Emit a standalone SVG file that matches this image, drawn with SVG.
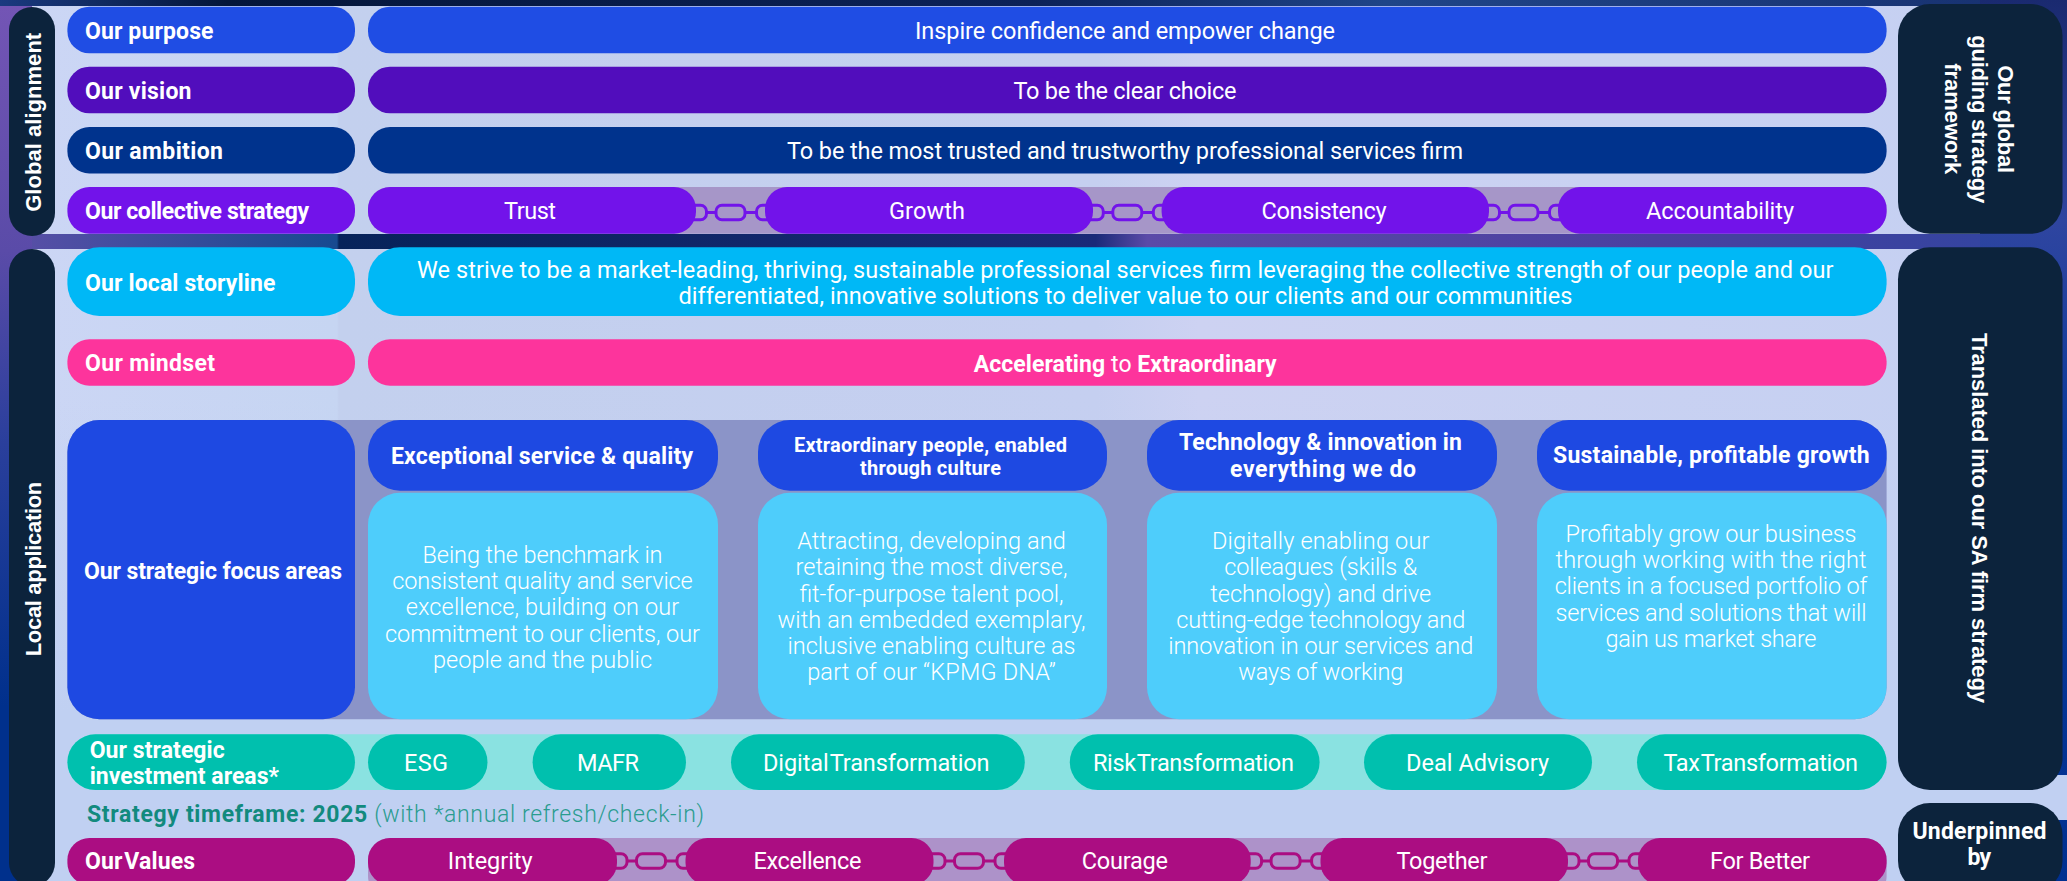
<svg xmlns="http://www.w3.org/2000/svg" width="2067" height="881" viewBox="0 0 2067 881">
<style>
text{fill:#fff;font-family:Roboto,"Liberation Sans",sans-serif}
.l{font-size:23px;font-weight:700}
.t{font-size:23.5px;font-weight:400}
.b{font-size:23.5px;font-weight:300;text-anchor:middle}
.c{text-anchor:middle}
.s{font-size:20px}
.w{word-spacing:-4px}
.r{font-family:"Liberation Sans",Arial,sans-serif;font-size:22px;font-weight:700;text-anchor:middle}
.dark{fill:#0c233c}
.purpose{fill:#1f4de4}.vision{fill:#510dbc}.ambition{fill:#00338d}.collective{fill:#7213ea}
.story{fill:#00b8f6}.mindset{fill:#fd349c}.focus{fill:#1e49e2}.body{fill:#4ecdfb}.invest{fill:#00c0ae}.values{fill:#ab0d82}
</style>
<defs>
<linearGradient id="panel" gradientUnits="userSpaceOnUse" x1="0" y1="0" x2="2067" y2="0">
<stop offset="0" stop-color="#ccd6f5"/><stop offset=".163" stop-color="#c6d5f2"/><stop offset=".164" stop-color="#c3d0ee"/><stop offset=".53" stop-color="#c5cff0"/><stop offset=".58" stop-color="#cdd2f2"/><stop offset="1" stop-color="#c4d0f2"/>
</linearGradient>
<linearGradient id="fade" x1="0" y1="0" x2="0" y2="1">
<stop offset="0" stop-color="#c0d0f2" stop-opacity="0"/><stop offset=".65" stop-color="#c0d0f2"/>
</linearGradient>
<linearGradient id="strip" gradientUnits="userSpaceOnUse" x1="0" y1="0" x2="2067" y2="0">
<stop offset="0" stop-color="#5c4fa8"/><stop offset=".163" stop-color="#174a90"/><stop offset=".164" stop-color="#07235a"/><stop offset=".53" stop-color="#1a2a78"/><stop offset=".555" stop-color="#5b4aa8"/><stop offset=".8" stop-color="#4a40a0"/><stop offset="1" stop-color="#2f45a0"/>
</linearGradient>
<linearGradient id="top" gradientUnits="userSpaceOnUse" x1="0" y1="0" x2="2067" y2="0">
<stop offset="0" stop-color="#1a3a80"/><stop offset=".11" stop-color="#04163a"/><stop offset=".5" stop-color="#0c2258"/><stop offset=".67" stop-color="#1f4588"/><stop offset="1" stop-color="#17306f"/>
</linearGradient>
<linearGradient id="left" x1="0" y1="0" x2="0" y2="1">
<stop offset="0" stop-color="#7355b5"/><stop offset=".28" stop-color="#5a4ba8"/><stop offset=".5" stop-color="#2a3f9c"/><stop offset=".8" stop-color="#00308c"/><stop offset="1" stop-color="#00308c"/>
</linearGradient>
<linearGradient id="right" x1="0" y1="0" x2="0" y2="1">
<stop offset="0" stop-color="#1a2a70"/><stop offset=".25" stop-color="#2f45a0"/><stop offset=".5" stop-color="#0a3a9a"/><stop offset="1" stop-color="#003090"/>
</linearGradient>
<g id="chain" fill="none" stroke-width="3">
<rect x="-14.5" y="-7.3" width="29" height="14.6" rx="6"/>
<path d="M-24 0H-14.5M14.5 0H26"/>
<rect x="-52" y="-7.3" width="28" height="14.6" rx="6"/>
<rect x="26" y="-7.3" width="28" height="14.6" rx="6"/>
</g>
</defs>
<g id="background">
<rect width="2067" height="881" fill="#0a2a70"/>
<rect x="0" y="0" width="2067" height="6" fill="url(#top)"/>
<rect x="0" y="234" width="2067" height="15" fill="url(#strip)"/>
<rect x="0" y="6" width="32" height="875" fill="url(#left)"/>
<rect x="1980" y="0" width="87" height="881" fill="url(#right)"/>
<rect x="32" y="6" width="1948" height="228" fill="url(#panel)"/>
<rect x="32" y="249" width="1948" height="632" fill="url(#panel)"/>
<rect x="32" y="400" width="1948" height="481" fill="url(#fade)"/>
<rect x="1980" y="775" width="87" height="45" fill="#c1d0f2"/>
<rect x="368" y="187" width="1518.6" height="46.7" rx="22" fill="#a696c8"/>
<rect x="67.4" y="420" width="1819.2" height="299.3" rx="32" fill="#8b94c8"/>
<rect x="67.4" y="734.3" width="1819.2" height="55.7" rx="28" fill="#8ae2e1"/>
<rect x="368" y="838" width="1518.6" height="60" rx="22" fill="#ad92c9"/>
</g>
<g id="connectors">
<use href="#chain" x="730.5" y="212.5" stroke="#7213ea"/>
<use href="#chain" x="1127.3" y="212.5" stroke="#7213ea"/>
<use href="#chain" x="1523.5" y="212.5" stroke="#7213ea"/>
<use href="#chain" x="651" y="861" stroke="#ab0d82"/>
<use href="#chain" x="969" y="861" stroke="#ab0d82"/>
<use href="#chain" x="1285.6" y="861" stroke="#ab0d82"/>
<use href="#chain" x="1603" y="861" stroke="#ab0d82"/>
</g>
<g id="global-alignment"><rect class="dark" x="9" y="7" width="46" height="229" rx="23"/><text class="r" transform="translate(41 122.3) rotate(-90)" textLength="179">Global alignment</text></g>
<g id="local-application"><rect class="dark" x="9" y="249" width="46" height="637" rx="23"/><text class="r" transform="translate(41 569) rotate(-90)" textLength="174.5">Local application</text></g>
<g id="global-framework"><rect class="dark" x="1898" y="4" width="164.5" height="229.7" rx="32"/>
<text class="r" transform="translate(1998 119.2) rotate(90)" textLength="108">Our global</text>
<text class="r" transform="translate(1971.5 119.2) rotate(90)" textLength="168">guiding strategy</text>
<text class="r" transform="translate(1945 118.8) rotate(90)" textLength="111">framework</text></g>
<g id="sa-strategy"><rect class="dark" x="1898" y="247.3" width="164.5" height="542.7" rx="32"/><text class="r" transform="translate(1971.7 518) rotate(90)" textLength="370">Translated into our SA firm strategy</text></g>
<g id="underpinned"><rect class="dark" x="1898" y="803" width="164.5" height="90" rx="32"/><text class="l c" x="1979.5" y="838.5" textLength="134">Underpinned</text><text class="l c" x="1979.3" y="864.5" textLength="23.5">by</text></g>

<g id="purpose"><rect class="purpose" x="67.4" y="6.7" width="287.6" height="46.6" rx="22"/><text class="l" x="85" y="38.5" textLength="128.5">Our purpose</text>
<rect class="purpose" x="368" y="6.7" width="1518.6" height="46.6" rx="22"/><text class="t c" x="1125" y="38.5" textLength="420">Inspire confidence and empower change</text></g>
<g id="vision"><rect class="vision" x="67.4" y="66.7" width="287.6" height="46.6" rx="22"/><text class="l" x="85" y="98.5" textLength="106.5">Our vision</text>
<rect class="vision" x="368" y="66.7" width="1518.6" height="46.6" rx="22"/><text class="t c" x="1125" y="98.5" textLength="223">To be the clear choice</text></g>
<g id="ambition"><rect class="ambition" x="67.4" y="127" width="287.6" height="46.4" rx="22"/><text class="l" x="85" y="158.5" textLength="138">Our ambition</text>
<rect class="ambition" x="368" y="127" width="1518.6" height="46.4" rx="22"/><text class="t c" x="1125" y="158.5" textLength="676">To be the most trusted and trustworthy professional services firm</text></g>
<g id="collective"><rect class="collective" x="67.4" y="187" width="287.6" height="46.7" rx="22"/><text class="l" x="85" y="219" textLength="224">Our collective strategy</text>
<rect class="collective" x="368" y="187" width="328" height="46.7" rx="22"/><text class="t c" x="530" y="219" textLength="52">Trust</text>
<rect class="collective" x="765" y="187" width="328" height="46.7" rx="22"/><text class="t c" x="927" y="219" textLength="76">Growth</text>
<rect class="collective" x="1161.6" y="187" width="327.4" height="46.7" rx="22"/><text class="t c" x="1324" y="219" textLength="125">Consistency</text>
<rect class="collective" x="1558" y="187" width="328.6" height="46.7" rx="22"/><text class="t c" x="1720" y="219" textLength="148">Accountability</text></g>

<g id="storyline"><rect class="story" x="67.4" y="247.3" width="287.6" height="68.7" rx="32"/><text class="l" x="85" y="290.5" textLength="190.5">Our local storyline</text>
<rect class="story" x="368" y="247.3" width="1518.6" height="68.7" rx="32"/>
<text class="t c" x="1125.3" y="278.3" textLength="1416.5">We strive to be a market-leading, thriving, sustainable professional services firm leveraging the collective strength of our people and our</text>
<text class="t c" x="1125.5" y="304.3" textLength="894">differentiated, innovative solutions to deliver value to our clients and our communities</text></g>
<g id="mindset"><rect class="mindset" x="67.4" y="339.3" width="287.6" height="46.4" rx="22"/><text class="l" x="85" y="371.2" textLength="130">Our mindset</text>
<rect class="mindset" x="368" y="339.3" width="1518.6" height="46.4" rx="22"/><text class="l" x="973.7" y="371.5" textLength="303">Accelerating <tspan style="font-weight:400">to</tspan> Extraordinary</text></g>

<g id="focus-areas"><rect class="focus" x="67.4" y="420" width="287.6" height="299.3" rx="32"/><text class="l" x="84" y="578.5" textLength="258">Our strategic focus areas</text></g>
<g id="focus-1"><rect class="focus" x="368" y="420" width="350" height="70.7" rx="32"/><text class="l c" x="542" y="463.5" textLength="302">Exceptional service &amp; quality</text>
<rect class="body" x="368" y="492.7" width="350" height="226.6" rx="32"/>
<text class="b" x="542.5" y="562.5" textLength="240">Being the benchmark in</text>
<text class="b" x="542.5" y="588.5" textLength="300.5">consistent quality and service</text>
<text class="b" x="542.5" y="614.5" textLength="273.5">excellence, building on our</text>
<text class="b" x="542.5" y="641.5" textLength="315">commitment to our clients, our</text>
<text class="b" x="542.5" y="667.5" textLength="219">people and the public</text></g>
<g id="focus-2"><rect class="focus" x="758" y="420" width="349" height="70.7" rx="32"/><text class="l c s" x="930.5" y="451.5" textLength="273">Extraordinary people, enabled</text><text class="l c s" x="930.5" y="474.8" textLength="141">through culture</text>
<rect class="body" x="758" y="492.7" width="349" height="226.6" rx="32"/>
<text class="b" x="931.5" y="549" textLength="268.5">Attracting, developing and</text>
<text class="b" x="931.5" y="575.4" textLength="272">retaining the most diverse,</text>
<text class="b" x="931.5" y="601.5" textLength="264">fit-for-purpose talent pool,</text>
<text class="b" x="931.5" y="627.5" textLength="308">with an embedded exemplary,</text>
<text class="b" x="931.5" y="654" textLength="288">inclusive enabling culture as</text>
<text class="b" x="931.5" y="680" textLength="248.7">part of our “KPMG DNA”</text></g>
<g id="focus-3"><rect class="focus" x="1147" y="420" width="350" height="70.7" rx="32"/><text class="l c" x="1320.5" y="450" textLength="283">Technology &amp; innovation in</text><text class="l c" x="1323" y="476.8" textLength="186">everything we do</text>
<rect class="body" x="1147" y="492.7" width="350" height="226.6" rx="32"/>
<text class="b" x="1320.7" y="549" textLength="217.6">Digitally enabling our</text>
<text class="b" x="1320.7" y="575.4" textLength="193">colleagues (skills &amp;</text>
<text class="b" x="1320.7" y="601.5" textLength="221">technology) and drive</text>
<text class="b" x="1320.7" y="627.5" textLength="289">cutting-edge technology and</text>
<text class="b" x="1320.7" y="654" textLength="305">innovation in our services and</text>
<text class="b" x="1320.7" y="680" textLength="165">ways of working</text></g>
<g id="focus-4"><rect class="focus" x="1537" y="420" width="349.6" height="70.7" rx="32"/><text class="l c" x="1711.3" y="463" textLength="316.5">Sustainable, profitable growth</text>
<rect class="body" x="1537" y="492.7" width="349.6" height="226.6" rx="32"/>
<text class="b" x="1711" y="541.8" textLength="291">Profitably grow our business</text>
<text class="b" x="1711" y="567.8" textLength="311">through working with the right</text>
<text class="b" x="1711" y="593.8" textLength="312.7">clients in a focused portfolio of</text>
<text class="b" x="1711" y="620.5" textLength="311">services and solutions that will</text>
<text class="b" x="1711" y="646.8" textLength="211">gain us market share</text></g>

<g id="investment"><rect class="invest" x="67.4" y="734.3" width="287.6" height="55.7" rx="28"/><text class="l" x="89.7" y="757.5" textLength="135">Our strategic</text><text class="l" x="89.7" y="783.8" textLength="189.3">investment areas*</text>
<rect class="invest" x="368" y="734.3" width="119.5" height="55.7" rx="28"/><text class="t c" x="426" y="770.5" textLength="43.8">ESG</text>
<rect class="invest" x="532.6" y="734.3" width="153.4" height="55.7" rx="28"/><text class="t c" x="608" y="770.5" textLength="62">MAFR</text>
<rect class="invest" x="731" y="734.3" width="293.8" height="55.7" rx="28"/><text class="t c w" x="876.3" y="770.5" textLength="226.5">Digital Transformation</text>
<rect class="invest" x="1069.8" y="734.3" width="249.8" height="55.7" rx="28"/><text class="t c w" x="1193.4" y="770.5" textLength="201">Risk Transformation</text>
<rect class="invest" x="1364" y="734.3" width="228" height="55.7" rx="28"/><text class="t c" x="1477.6" y="770.5" textLength="143">Deal Advisory</text>
<rect class="invest" x="1637" y="734.3" width="249.6" height="55.7" rx="28"/><text class="t c w" x="1760.7" y="770.5" textLength="194.6">Tax Transformation</text></g>
<text id="timeframe" x="87" y="821.5" style="fill:#2a9c8f;font-size:23px;font-weight:300" textLength="617"><tspan style="fill:#128a7e;font-weight:700">Strategy timeframe: 2025</tspan> (with *annual refresh/check-in)</text>
<g id="values"><rect class="values" x="67.4" y="838" width="287.6" height="47" rx="22"/><text class="l w" x="85" y="869" textLength="110">Our Values</text>
<rect class="values" x="368" y="838" width="249" height="47" rx="22"/><text class="t c" x="490.2" y="869" textLength="84.8">Integrity</text>
<rect class="values" x="685.5" y="838" width="248" height="47" rx="22"/><text class="t c" x="807.4" y="869" textLength="108">Excellence</text>
<rect class="values" x="1004" y="838" width="246.7" height="47" rx="22"/><text class="t c" x="1124.8" y="869" textLength="86.3">Courage</text>
<rect class="values" x="1320.5" y="838" width="247.5" height="47" rx="22"/><text class="t c" x="1442" y="869" textLength="91">Together</text>
<rect class="values" x="1638" y="838" width="248.6" height="47" rx="22"/><text class="t c" x="1760" y="869" textLength="100">For Better</text></g>
</svg>
